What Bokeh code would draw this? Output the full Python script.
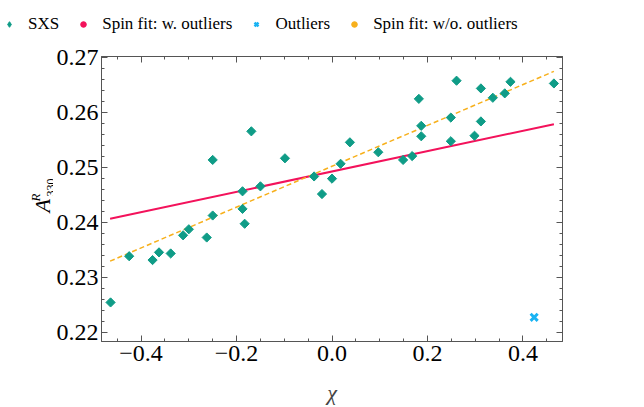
import math
from bokeh.plotting import figure
from bokeh.layouts import column, row
from bokeh.models import (Range1d, LinearAxis, SingleIntervalTicker, CustomJSTickFormatter,
                          Legend, LegendItem, Label, ColumnDataSource)
from bokeh.embed import file_html
from bokeh.resources import INLINE

# ---- data ----
sxs_chi = [-0.464, -0.425, -0.376, -0.3625, -0.338, -0.312, -0.300, -0.2625, -0.250, -0.250,
           -0.1875, -0.183, -0.1875, -0.169, -0.150, -0.0986, -0.0375, -0.021, 0.000, 0.018,
           0.0375, 0.097, 0.149, 0.168, 0.182, 0.187, 0.187, 0.249, 0.249, 0.261,
           0.2986, 0.312, 0.312, 0.337, 0.362, 0.374, 0.465]
sxs_A = [0.2255, 0.2339, 0.2332, 0.2346, 0.2344, 0.2377, 0.2388, 0.2373, 0.2413, 0.2514,
         0.2425, 0.2398, 0.2457, 0.2566, 0.2466, 0.2517, 0.2484, 0.2452, 0.2480, 0.2507,
         0.2546, 0.2528, 0.2514, 0.2521, 0.2625, 0.2576, 0.2557, 0.2591, 0.2548, 0.2658,
         0.2558, 0.2644, 0.2584, 0.2627, 0.2635, 0.2656, 0.2653]
outlier_chi = [0.4236]
outlier_A = [0.2228]
fit_w_chi = [-0.465, 0.465]
fit_w_A = [0.2407, 0.2579]
fit_wo_chi = [-0.465, 0.465]
fit_wo_A = [0.2330, 0.2675]
legend_labels = ["SXS", "Spin fit: w. outliers", "Outliers", "Spin fit: w/o. outliers"]

x_ticks_interval = 0.2
y_ticks_interval = 0.01

TEAL = "#0f9c87"
RED = "#f3125b"
ORANGE = "#f7b01c"
CYAN = "#19b3f3"
FRAME = "#555555"
FONT = "Liberation Serif"

LEG_H = 40
YLAB_W = 53
W, H = 644, 407
FRAME_TOP, FRAME_BOTTOM = 56, 343

# ---- main plot ----
p = figure(width=W - YLAB_W, height=H - LEG_H, output_backend="svg", toolbar_location=None,
           title=None,
           x_range=Range1d(-0.483, 0.483), y_range=Range1d(0.2184, 0.2702),
           min_border_left=98 - YLAB_W, min_border_right=82, min_border_top=FRAME_TOP - LEG_H,
           min_border_bottom=H - FRAME_BOTTOM, x_axis_type=None, y_axis_type=None)
p.grid.visible = False
p.outline_line_color = FRAME

xfmt = CustomJSTickFormatter(code="""
    if (Math.abs(tick) < 1e-9) return '0.0';
    return tick.toFixed(1).replace('-', '\u2212');
""")
yfmt = CustomJSTickFormatter(code="return tick.toFixed(2);")
blank = CustomJSTickFormatter(code="return '';")

def style(ax):
    ax.axis_line_color = FRAME
    ax.major_tick_line_color = FRAME
    ax.minor_tick_line_color = FRAME
    ax.major_tick_in = 6
    ax.major_tick_out = 0
    ax.minor_tick_in = 3
    ax.minor_tick_out = 0
    ax.major_label_text_font = FONT
    ax.major_label_text_font_size = "24px"
    ax.major_label_text_color = "black"

xb = LinearAxis(ticker=SingleIntervalTicker(interval=x_ticks_interval, num_minor_ticks=4),
                formatter=xfmt, axis_label="χ")
style(xb)
xb.major_label_standoff = 4
xb.axis_label_text_font = FONT
xb.axis_label_text_font_style = "italic"
xb.axis_label_text_font_size = "22px"
xb.axis_label_standoff = 16
p.add_layout(xb, "below")

yl = LinearAxis(ticker=SingleIntervalTicker(interval=y_ticks_interval, num_minor_ticks=5),
                formatter=yfmt)
style(yl)
yl.major_label_standoff = 3
p.add_layout(yl, "left")

xtop = LinearAxis(ticker=SingleIntervalTicker(interval=x_ticks_interval, num_minor_ticks=4),
                  formatter=blank)
style(xtop)
p.add_layout(xtop, "above")
yr = LinearAxis(ticker=SingleIntervalTicker(interval=y_ticks_interval, num_minor_ticks=5),
                formatter=blank)
style(yr)
p.add_layout(yr, "right")

p.line(fit_w_chi, fit_w_A, line_color=RED, line_width=2)
p.line(fit_wo_chi, fit_wo_A, line_color=ORANGE, line_width=1.5, line_dash="5 3")
p.scatter(sxs_chi, sxs_A, marker="square", size=6.5, angle=math.pi / 4,
          fill_color=TEAL, line_color=TEAL)
p.scatter(outlier_chi, outlier_A, marker="x", size=10, line_color=CYAN, line_width=3)

# ---- legend strip ----
lf = figure(width=W, height=LEG_H, output_backend="svg", toolbar_location=None, title=None,
            x_range=Range1d(0, W), y_range=Range1d(0, LEG_H), min_border=0,
            x_axis_type=None, y_axis_type=None)
lf.grid.visible = False
lf.outline_line_color = None
# proxy glyphs (placed outside the visible range) for the legend
off = ColumnDataSource(data=dict(x=[-1000], y=[-1000]))
l_sxs = lf.scatter("x", "y", source=off, marker="diamond", size=12,
                   fill_color=TEAL, line_color=TEAL)
l_red = lf.scatter("x", "y", source=off, marker="circle", size=7, fill_color=RED, line_color=RED)
l_out = lf.scatter("x", "y", source=off, marker="x", size=8, line_color=CYAN, line_width=2.5)
l_or = lf.scatter("x", "y", source=off, marker="circle", size=7, fill_color=ORANGE, line_color=ORANGE)
legend = Legend(items=[LegendItem(label=t, renderers=[r], index=0) for t, r in
                       zip(legend_labels, [l_sxs, l_red, l_out, l_or])],
                orientation="horizontal", location=(2, 6))
legend.label_text_font = FONT
legend.label_text_font_size = "17px"
legend.label_text_color = "black"
legend.glyph_width = 14
legend.glyph_height = 14
legend.label_standoff = 12
legend.spacing = 17
legend.padding = 4
legend.margin = 0
legend.border_line_color = None
legend.background_fill_alpha = 0
lf.add_layout(legend, "center")

# ---- y-label strip: A^R_330 rotated ----
# The row aligns this strip's frame with the main frame (canvas y 56..343),
# so its y range is set in pixels measured up from the frame bottom.
yf = figure(width=YLAB_W, height=H - LEG_H, output_backend="svg", toolbar_location=None,
            title=None,
            x_range=Range1d(0, YLAB_W), y_range=Range1d(0, FRAME_BOTTOM - FRAME_TOP),
            min_border=0, x_axis_type=None, y_axis_type=None)
yf.grid.visible = False
yf.outline_line_color = None

def lab(text, x, y, size, italic):
    yf.add_layout(Label(x=x, y=y, text=text, angle=math.pi / 2,
                        text_font=FONT, text_font_size=size, text_align="left",
                        text_baseline="alphabetic", text_color="black",
                        text_font_style="italic" if italic else "normal"))

lab("A", 42, FRAME_BOTTOM - 213, "22px", True)
lab("R", 35, FRAME_BOTTOM - 202, "13px", True)
lab("330", 50, FRAME_BOTTOM - 197, "12px", False)

layout = column(lf, row(yf, p, spacing=0), spacing=0)
open("out.html", "w").write(file_html(layout, INLINE))
